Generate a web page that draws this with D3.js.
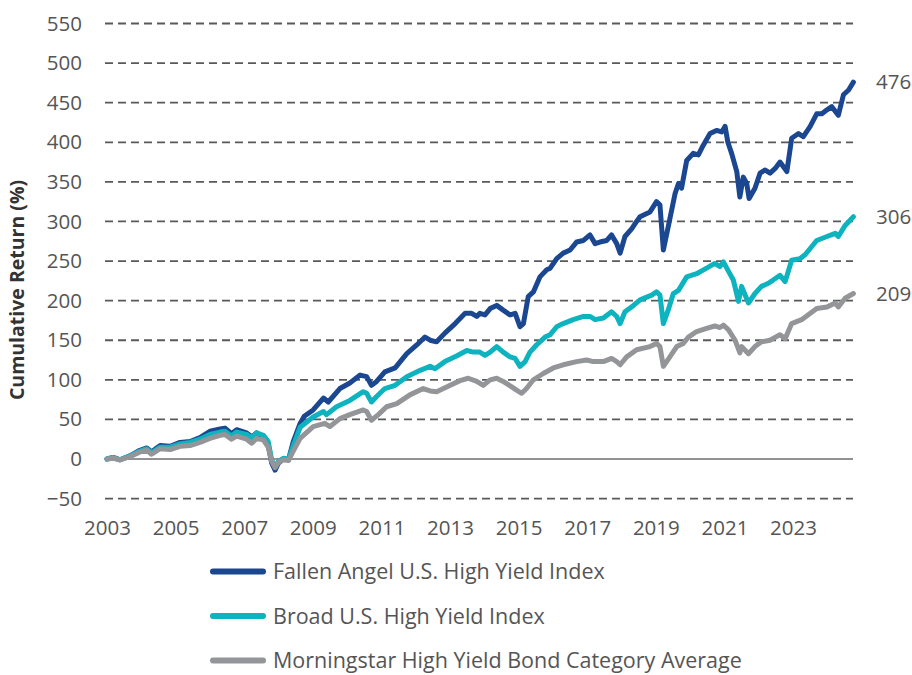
<!DOCTYPE html>
<html>
<head>
<meta charset="utf-8">
<script src="https://cdn.jsdelivr.net/npm/d3@7"></script>
<style>
  body { margin: 0; background: #fff; }
  svg { font-family: "Open Sans", sans-serif; }
</style>
</head>
<body>
<svg id="chart" width="912" height="675"></svg>
<script>
// [decimal year, cumulative return %]
const fallenAngel = [[2003.0,0],[2003.18,2],[2003.38,-1],[2003.67,4],[2003.96,11],[2004.16,14],[2004.3,9],[2004.55,17],[2004.84,16],[2005.13,21],[2005.42,22],[2005.71,27],[2006.0,35],[2006.3,38],[2006.44,39],[2006.63,32],[2006.78,37],[2007.07,33],[2007.22,28],[2007.36,33],[2007.56,27],[2007.7,18],[2007.8,-5],[2007.9,-14],[2008.0,-5],[2008.14,0],[2008.29,-1],[2008.43,22],[2008.63,45],[2008.75,54],[2009.01,62],[2009.31,77],[2009.45,72],[2009.79,89],[2010.08,96],[2010.38,106],[2010.57,104],[2010.71,93],[2010.86,98],[2011.1,110],[2011.4,115],[2011.74,133],[2012.03,144],[2012.27,154],[2012.42,150],[2012.61,148],[2012.85,159],[2013.15,171],[2013.44,184],[2013.63,184],[2013.78,180],[2013.87,184],[2014.02,182],[2014.17,190],[2014.36,194],[2014.55,188],[2014.75,182],[2014.9,184],[2015.04,167],[2015.14,171],[2015.28,205],[2015.43,211],[2015.62,230],[2015.82,239],[2015.92,241],[2016.11,253],[2016.3,260],[2016.5,264],[2016.69,274],[2016.89,276],[2017.08,283],[2017.23,272],[2017.37,274],[2017.57,276],[2017.71,283],[2017.86,272],[2017.96,260],[2018.1,281],[2018.3,291],[2018.44,300],[2018.54,306],[2018.83,312],[2019.02,325],[2019.12,321],[2019.22,264],[2019.36,293],[2019.56,335],[2019.66,348],[2019.75,342],[2019.9,377],[2020.09,386],[2020.24,384],[2020.38,396],[2020.58,411],[2020.77,415],[2020.92,413],[2021.02,420],[2021.1,400],[2021.21,386],[2021.36,363],[2021.45,331],[2021.55,356],[2021.65,348],[2021.72,329],[2021.89,342],[2022.04,361],[2022.18,365],[2022.33,361],[2022.48,367],[2022.62,375],[2022.82,363],[2022.96,405],[2023.16,411],[2023.3,407],[2023.5,420],[2023.69,436],[2023.84,436],[2023.99,441],[2024.13,445],[2024.32,434],[2024.47,460],[2024.62,466],[2024.76,476]];

const broadHY = [[2003.0,0],[2003.18,2],[2003.38,-1],[2003.67,4],[2003.96,10],[2004.16,13],[2004.3,8],[2004.55,15],[2004.84,15],[2005.13,19],[2005.42,21],[2005.71,25],[2006.0,31],[2006.3,34],[2006.44,35],[2006.63,29],[2006.78,34],[2007.07,31],[2007.22,27],[2007.36,33],[2007.56,30],[2007.7,22],[2007.8,-1],[2007.9,-10],[2008.0,-3],[2008.14,1],[2008.29,0],[2008.43,17],[2008.63,40],[2009.01,53],[2009.31,60],[2009.4,56],[2009.69,66],[2010.08,74],[2010.47,85],[2010.57,83],[2010.71,72],[2010.86,79],[2011.1,89],[2011.4,93],[2011.74,104],[2012.13,112],[2012.42,117],[2012.56,114],[2012.85,123],[2013.19,130],[2013.49,137],[2013.68,135],[2013.87,135],[2014.02,131],[2014.17,135],[2014.36,142],[2014.55,135],[2014.75,129],[2014.9,127],[2015.04,117],[2015.19,123],[2015.33,135],[2015.52,144],[2015.77,154],[2015.92,157],[2016.11,167],[2016.3,171],[2016.59,176],[2016.89,180],[2017.08,180],[2017.23,176],[2017.47,178],[2017.71,186],[2017.86,180],[2017.96,171],[2018.1,186],[2018.35,194],[2018.54,201],[2018.88,207],[2019.02,211],[2019.12,207],[2019.22,171],[2019.36,188],[2019.51,209],[2019.66,213],[2019.9,230],[2020.19,234],[2020.48,241],[2020.72,247],[2020.87,243],[2020.97,249],[2021.12,237],[2021.26,226],[2021.41,199],[2021.5,218],[2021.7,197],[2021.89,209],[2022.08,218],[2022.28,222],[2022.42,226],[2022.62,232],[2022.77,224],[2022.96,251],[2023.2,253],[2023.35,258],[2023.69,276],[2023.99,281],[2024.23,285],[2024.32,281],[2024.52,295],[2024.76,306]];

const morningstar = [[2003.0,0],[2003.18,1],[2003.38,-1],[2003.67,3],[2003.96,9],[2004.16,11],[2004.3,6],[2004.55,13],[2004.84,12],[2005.13,16],[2005.42,17],[2005.71,21],[2006.0,26],[2006.3,30],[2006.44,31],[2006.63,25],[2006.78,29],[2007.07,25],[2007.22,20],[2007.36,26],[2007.56,24],[2007.7,15],[2007.8,-3],[2007.9,-11],[2008.0,-4],[2008.14,-1],[2008.29,-2],[2008.43,10],[2008.63,26],[2009.01,41],[2009.35,45],[2009.5,41],[2009.79,51],[2010.08,56],[2010.47,62],[2010.57,60],[2010.71,49],[2010.91,56],[2011.15,66],[2011.45,70],[2011.83,81],[2012.22,89],[2012.42,86],[2012.61,85],[2012.9,91],[2013.29,99],[2013.53,102],[2013.78,98],[2013.97,93],[2014.17,100],[2014.36,102],[2014.55,98],[2014.8,91],[2014.94,87],[2015.09,83],[2015.23,89],[2015.43,100],[2015.72,108],[2016.01,115],[2016.3,119],[2016.69,123],[2016.98,125],[2017.18,123],[2017.47,123],[2017.71,127],[2017.86,123],[2017.96,119],[2018.15,129],[2018.44,138],[2018.83,142],[2019.02,146],[2019.12,142],[2019.22,117],[2019.41,129],[2019.61,142],[2019.8,146],[2019.95,154],[2020.19,161],[2020.48,165],[2020.72,168],[2020.87,166],[2020.97,169],[2021.12,163],[2021.31,150],[2021.45,134],[2021.5,142],[2021.7,133],[2021.89,142],[2022.08,148],[2022.33,150],[2022.62,157],[2022.77,152],[2022.96,171],[2023.25,176],[2023.69,190],[2023.99,192],[2024.23,197],[2024.32,192],[2024.52,203],[2024.76,209]];

const seriesNames = ['Fallen Angel U.S. High Yield Index', 'Broad U.S. High Yield Index', 'Morningstar High Yield Bond Category Average'];
const seriesColors = ['#1b4791', '#0db3bf', '#939598'];
const yTicks = [-50, 0, 50, 100, 150, 200, 250, 300, 350, 400, 450, 500, 550];
const xTicks = [2003, 2005, 2007, 2009, 2011, 2013, 2015, 2017, 2019, 2021, 2023];

const svg = d3.select('#chart');
const x = d3.scaleLinear().domain([2003, 2024.76]).range([107, 853.4]);
const y = d3.scaleLinear().domain([-50, 550]).range([498.6, 23.5]);
const gridX1 = 105, gridX2 = 853;
const textColor = '#555';

// Grid lines (zero line is solid)
svg.append('g').selectAll('line')
  .data(yTicks)
  .enter()
  .append('line')
    .attr('x1', gridX1)
    .attr('x2', gridX2)
    .attr('y1', d => y(d))
    .attr('y2', d => y(d))
    .attr('stroke', d => d === 0 ? '#6d6e71' : '#58595b')
    .attr('stroke-width', d => d === 0 ? 1.6 : 1.8)
    .attr('stroke-dasharray', d => d === 0 ? null : '8,5');

// Y axis
let yAxis = svg.append('g')
  .attr('transform', 'translate(82,0)')
  .call(d3.axisLeft(y).tickValues(yTicks).tickSize(0).tickPadding(0));
yAxis.select('.domain').remove();
yAxis.selectAll('text')
  .attr('fill', textColor)
  .style('font-size', '20.5px')
  .style('font-family', '"Open Sans", sans-serif');

// X axis
let xAxis = svg.append('g')
  .attr('transform', 'translate(0,514)')
  .call(d3.axisBottom(x).tickValues(xTicks).tickFormat(d3.format('d')).tickSize(0).tickPadding(6));
xAxis.select('.domain').remove();
xAxis.selectAll('text')
  .attr('fill', textColor)
  .style('font-size', '20.5px')
  .style('font-family', '"Open Sans", sans-serif');

// Y axis title
svg.append('text')
  .attr('transform', 'translate(24,290)rotate(-90)')
  .attr('text-anchor', 'middle')
  .attr('fill', '#333')
  .style('font-size', '19.5px')
  .style('font-weight', 'bold')
  .text('Cumulative Return (%)');

// Lines, drawn so gray ends on top
let line = d3.line().x(d => x(d[0])).y(d => y(d[1]));
let allSeries = [fallenAngel, broadHY, morningstar];
svg.append('g').selectAll('path')
  .data(allSeries)
  .enter()
  .append('path')
    .attr('d', line)
    .attr('fill', 'none')
    .attr('stroke', (d, i) => seriesColors[i])
    .attr('stroke-width', 5)
    .attr('stroke-linejoin', 'round')
    .attr('stroke-linecap', 'round');

// End value labels
svg.append('g').selectAll('text')
  .data(allSeries)
  .enter()
  .append('text')
    .attr('x', 876)
    .attr('y', d => y(d[d.length - 1][1]))
    .attr('dy', '0.35em')
    .attr('fill', textColor)
    .style('font-size', '20.5px')
    .text(d => d[d.length - 1][1]);

// Legend
let legend = svg.append('g').selectAll('g')
  .data(seriesNames)
  .enter()
  .append('g')
    .attr('transform', (d, i) => `translate(0,${571.5 + i * 44.5})`);
legend.append('line')
  .attr('x1', 213).attr('x2', 263)
  .attr('stroke', (d, i) => seriesColors[i])
  .attr('stroke-width', 6)
  .attr('stroke-linecap', 'round');
legend.append('text')
  .attr('x', 273)
  .attr('dy', '0.35em')
  .attr('fill', textColor)
  .style('font-size', '21.5px')
  .text(d => d);
</script>
</body>
</html>
